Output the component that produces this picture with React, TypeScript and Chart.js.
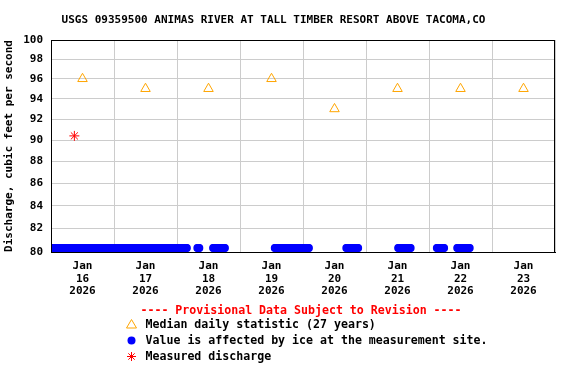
import React, { useEffect, useRef } from "react";
import { Chart, registerables } from "chart.js";

Chart.register(...registerables);

const TITLE = "USGS 09359500 ANIMAS RIVER AT TALL TIMBER RESORT ABOVE TACOMA,CO";
const Y_TITLE = "Discharge, cubic feet per second";
const MONTH = "Jan";
const YEAR = "2026";
const DAYS = ["16", "17", "18", "19", "20", "21", "22", "23"];
const Y_TICKS = [80, 82, 84, 86, 88, 90, 92, 94, 96, 98, 100];

// hours since Jan 16 00:00
const MEDIAN_HOURS = [12, 36, 60, 84, 108, 132, 156, 180];
const MEDIAN_VALUES = [96, 95, 95, 96, 93, 95, 95, 95];

const MEASURED_HOURS = [8.9];
const MEASURED_VALUES = [90.4];

// ice-affected periods [start hour, end hour], plotted at the axis floor
const ICE_PERIODS: [number, number][] = [
  [0, 51.75],
  [55.75, 56.5],
  [61.75, 66.25],
  [85.25, 98.25],
  [112.5, 117],
  [132.25, 137],
  [147, 149.75],
  [154.75, 159.5],
];
const ICE_LEVEL = 80.34;
const STEP_HOURS = 0.25;

const LEGEND_HEAD = "---- Provisional Data Subject to Revision ----";
const LEGEND_ITEMS = [
  "Median daily statistic (27 years)",
  "Value is affected by ice at the measurement site.",
  "Measured discharge",
];

const FONT = "'DejaVu Sans Mono', monospace";

export default function App() {
  const ref = useRef<HTMLCanvasElement | null>(null);

  useEffect(() => {
    if (!ref.current) return;

    const icePoints: { x: number; y: number }[] = [];
    ICE_PERIODS.forEach(([a, b]) => {
      for (let h = a; h <= b + 1e-9; h += STEP_HOURS) icePoints.push({ x: h, y: ICE_LEVEL });
    });

    const decor = {
      id: "decor",
      afterDraw(chart: any) {
        const ctx = chart.ctx as CanvasRenderingContext2D;
        const ca = chart.chartArea;
        ctx.save();
        // frame
        ctx.strokeStyle = "#000";
        ctx.lineWidth = 1;
        ctx.strokeRect(ca.left + 0.5, ca.top + 0.5, ca.right - ca.left - 1, ca.bottom - ca.top);
        // title
        ctx.fillStyle = "#000";
        ctx.font = `bold 11px ${FONT}`;
        ctx.textAlign = "center";
        ctx.textBaseline = "middle";
        ctx.fillText(TITLE, 273.5, 20);
        // legend
        ctx.font = `bold 11.6px ${FONT}`;
        ctx.fillStyle = "#FF0000";
        ctx.fillText(LEGEND_HEAD, 301, 311);
        ctx.textAlign = "left";
        ctx.fillStyle = "#000";
        const rows = [324.5, 340.5, 356.5];
        LEGEND_ITEMS.forEach((t, i) => ctx.fillText(t, 145.5, rows[i]));
        const sx = 131.5;
        // triangle
        ctx.strokeStyle = "#FFA500";
        ctx.beginPath();
        ctx.moveTo(sx, rows[0] - 5);
        ctx.lineTo(sx + 5, rows[0] + 3.5);
        ctx.lineTo(sx - 5, rows[0] + 3.5);
        ctx.closePath();
        ctx.stroke();
        // circle
        ctx.fillStyle = "#0000FF";
        ctx.beginPath();
        ctx.arc(sx, rows[1], 4, 0, Math.PI * 2);
        ctx.fill();
        // star
        ctx.strokeStyle = "#FF0000";
        ctx.beginPath();
        const r = 4.5;
        for (let k = 0; k < 4; k++) {
          const ang = (k * Math.PI) / 4;
          ctx.moveTo(sx - Math.cos(ang) * r, rows[2] - Math.sin(ang) * r);
          ctx.lineTo(sx + Math.cos(ang) * r, rows[2] + Math.sin(ang) * r);
        }
        ctx.stroke();
        ctx.restore();
      },
    };

    const chart = new Chart(ref.current, {
      type: "scatter",
      data: {
        datasets: [
          {
            label: "ice",
            data: icePoints,
            pointStyle: "circle",
            pointRadius: 4,
            backgroundColor: "#0000FF",
            borderColor: "#0000FF",
            borderWidth: 0,
          },
          {
            label: "median",
            data: MEDIAN_HOURS.map((h, i) => ({ x: h, y: MEDIAN_VALUES[i] })),
            pointStyle: "triangle",
            pointRadius: 5.5,
            backgroundColor: "rgba(0,0,0,0)",
            borderColor: "#FFA500",
            borderWidth: 1,
          },
          {
            label: "measured",
            data: MEASURED_HOURS.map((h, i) => ({ x: h, y: MEASURED_VALUES[i] })),
            pointStyle: "star",
            pointRadius: 5,
            backgroundColor: "#FF0000",
            borderColor: "#FF0000",
            borderWidth: 1,
          },
        ],
      },
      options: {
        responsive: false,
        animation: false,
        layout: { padding: { left: 0, top: 40, right: 21, bottom: 0 } },
        plugins: {
          legend: { display: false },
          title: { display: false },
          tooltip: { enabled: false },
        },
        scales: {
          x: {
            type: "linear",
            min: 0,
            max: 192,
            afterFit: (s: any) => {
              s.height = 132;
            },
            border: { display: true, color: "#000", width: 1 },
            grid: {
              drawTicks: false,
              color: (c: any) => (c.tick && c.tick.value % 24 === 0 ? "#CCCCCC" : "rgba(0,0,0,0)"),
            },
            ticks: {
              stepSize: 12,
              autoSkip: false,
              maxRotation: 0,
              padding: 8,
              color: "#000",
              font: { family: FONT, size: 11, weight: "bold", lineHeight: 1.15 },
              callback: (v: any) => {
                const n = Number(v);
                if (n % 24 === 12) {
                  const d = DAYS[Math.floor(n / 24)];
                  return [MONTH, d, YEAR];
                }
                return "";
              },
            },
          },
          y: {
            type: "logarithmic",
            min: 80,
            max: 100,
            afterFit: (s: any) => {
              s.width = 51;
            },
            afterBuildTicks: (s: any) => {
              s.ticks = Y_TICKS.map((v) => ({ value: v }));
            },
            border: { display: true, color: "#000", width: 1 },
            grid: { drawTicks: false, color: "#CCCCCC" },
            ticks: {
              autoSkip: false,
              padding: 8,
              color: "#000",
              font: { family: FONT, size: 11, weight: "bold" },
              callback: (v: any) => String(v),
            },
            title: {
              display: true,
              text: Y_TITLE,
              color: "#000",
              font: { family: FONT, size: 11, weight: "bold" },
              padding: { top: 3, bottom: 0 },
            },
          },
        },
      },
      plugins: [decor],
    } as any);

    return () => chart.destroy();
  }, []);

  return (
    <canvas
      ref={ref}
      width={576}
      height={384}
      style={{ position: "absolute", left: 0, top: 0, display: "block", background: "#fff" }}
    />
  );
}
